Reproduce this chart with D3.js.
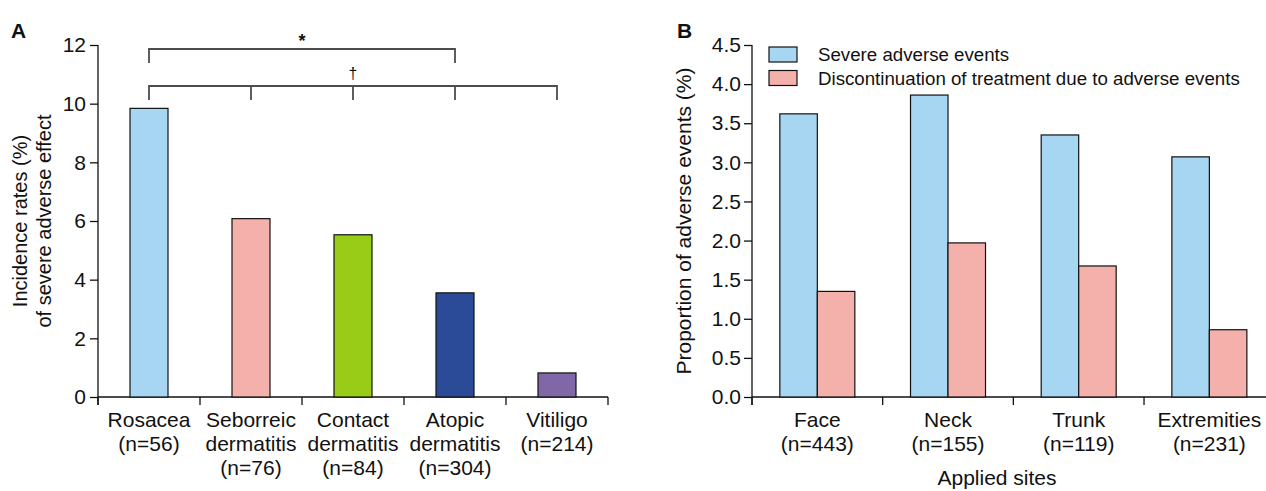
<!DOCTYPE html>
<meta charset="utf-8">
<style>
body { margin: 0; background: #fff; }
text { font-family: "Liberation Sans", Arial, sans-serif; fill: #111; }
.axis path, .axis line { stroke: #111; stroke-width: 1.3; }
.axis text { font-size: 21px; fill: #111; }
.bar { stroke: #111; stroke-width: 1.2; }
</style>
<svg width="1266" height="491"></svg>
<script src="https://d3js.org/d3.v7.min.js"></script>
<script>

// panel A data
var diseases = ["Rosacea", "Seborreic dermatitis", "Contact dermatitis", "Atopic dermatitis", "Vitiligo"];
var diseaseLabels = [["Rosacea", "(n=56)"], ["Seborreic", "dermatitis", "(n=76)"],
  ["Contact", "dermatitis", "(n=84)"], ["Atopic", "dermatitis", "(n=304)"], ["Vitiligo", "(n=214)"]];
var incidence = [9.84, 6.08, 5.53, 3.55, 0.82];
var diseaseColors = ["#a7d6f3", "#f4b1ac", "#99cc16", "#2b4a97", "#8068a8"];
var ticksA = [0, 2, 4, 6, 8, 10, 12];

// panel B data
var sites = ["Face", "Neck", "Trunk", "Extremities"];
var siteN = ["(n=443)", "(n=155)", "(n=119)", "(n=231)"];
var severe = [3.62, 3.86, 3.35, 3.07];
var discontinued = [1.35, 1.97, 1.675, 0.86];
var seriesNames = ["Severe adverse events", "Discontinuation of treatment due to adverse events"];
var seriesColors = ["#a7d6f3", "#f4b1ac"];
var ticksB = [0, 0.5, 1, 1.5, 2, 2.5, 3, 3.5, 4, 4.5];

var svg = d3.select("svg");

// ---------- panel A ----------
var gA = svg.append("g");
var xA = d3.scaleBand().domain(diseases).range([98, 608]);
var yA = d3.scaleLinear().domain([0, 12]).range([397, 45]);

gA.append("g").attr("class", "axis")
    .attr("transform", "translate(98,0)")
    .call(d3.axisLeft(yA).tickValues(ticksA).tickSize(8).tickPadding(4).tickSizeOuter(0))
    .call(function(g) { g.select(".domain").attr("d", "M0,45V405"); });

// x axis with ticks at category boundaries
var boundsA = diseases.map(function(d) { return xA(d); }).concat([xA.range()[1]]);
gA.append("line").attr("x1", 98).attr("x2", 608).attr("y1", 397).attr("y2", 397)
    .attr("stroke", "#111").attr("stroke-width", 1.3);
gA.selectAll(".xtick").data(boundsA).enter().append("line")
    .attr("x1", function(d) { return d; }).attr("x2", function(d) { return d; })
    .attr("y1", 397).attr("y2", 405).attr("stroke", "#111").attr("stroke-width", 1.3);

var bwA = 38;
gA.selectAll(".bar").data(diseases).enter().append("rect")
    .attr("class", "bar")
    .attr("x", function(d) { return xA(d) + xA.bandwidth() / 2 - bwA / 2; })
    .attr("width", bwA)
    .attr("y", function(d, i) { return yA(incidence[i]); })
    .attr("height", function(d, i) { return yA(0) - yA(incidence[i]); })
    .attr("fill", function(d, i) { return diseaseColors[i]; });

gA.selectAll(".catlab").data(diseases).enter().append("text")
    .attr("text-anchor", "middle")
    .attr("font-size", 21)
    .attr("transform", function(d) { return "translate(" + (xA(d) + xA.bandwidth() / 2) + ",427)"; })
    .each(function(d, i) {
      var t = d3.select(this);
      diseaseLabels[i].forEach(function(line, j) {
        t.append("tspan").attr("x", 0).attr("y", j * 24).text(line);
      });
    });

gA.append("text")
    .attr("transform", "translate(27,221) rotate(-90)")
    .attr("text-anchor", "middle").attr("font-size", 20)
    .text("Incidence rates (%)");
gA.append("text")
    .attr("transform", "translate(51,221) rotate(-90)")
    .attr("text-anchor", "middle").attr("font-size", 20)
    .text("of severe adverse effect");

gA.append("text").attr("x", 11).attr("y", 38)
    .attr("font-size", 21).attr("font-weight", "bold").text("A");

// significance brackets
function cx(d) { return xA(d) + xA.bandwidth() / 2; }
var bracket = gA.append("g").attr("stroke", "#4d4d4d").attr("stroke-width", 1.8).attr("fill", "none");
bracket.append("path")
    .attr("d", "M" + cx(diseases[0]) + ",63V49H" + cx(diseases[3]) + "V63");
bracket.append("path")
    .attr("d", "M" + cx(diseases[0]) + ",100V86H" + cx(diseases[4]) + "V100");
diseases.slice(1, 4).forEach(function(d) {
  bracket.append("line").attr("x1", cx(d)).attr("x2", cx(d)).attr("y1", 86).attr("y2", 100);
});
gA.append("text").attr("x", (cx(diseases[0]) + cx(diseases[3])) / 2).attr("y", 47)
    .attr("text-anchor", "middle").attr("font-size", 18).attr("font-weight", "bold").text("*");
gA.append("text").attr("x", cx(diseases[2])).attr("y", 79)
    .attr("text-anchor", "middle").attr("font-size", 16).style("fill", "#111").text("\u2020");

// ---------- panel B ----------
var gB = svg.append("g");
var xB = d3.scaleBand().domain(sites).range([752, 1274.7]);
var yB = d3.scaleLinear().domain([0, 4.5]).range([397, 45]);

gB.append("g").attr("class", "axis")
    .attr("transform", "translate(752,0)")
    .call(d3.axisLeft(yB).tickValues(ticksB).tickFormat(d3.format(".1f")).tickSize(8).tickPadding(3).tickSizeOuter(0))
    .call(function(g) { g.select(".domain").attr("d", "M0,45V405"); });

var boundsB = sites.map(function(d) { return xB(d); }).concat([xB.range()[1]]);
gB.append("line").attr("x1", 752).attr("x2", xB.range()[1]).attr("y1", 397).attr("y2", 397)
    .attr("stroke", "#111").attr("stroke-width", 1.3);
gB.selectAll(".xtick").data(boundsB).enter().append("line")
    .attr("x1", function(d) { return d; }).attr("x2", function(d) { return d; })
    .attr("y1", 397).attr("y2", 405).attr("stroke", "#111").attr("stroke-width", 1.3);

var bwB = 37.5;
var seriesVals = [severe, discontinued];
seriesVals.forEach(function(vals, s) {
  gB.selectAll(".bar" + s).data(sites).enter().append("rect")
      .attr("class", "bar")
      .attr("x", function(d) { return xB(d) + xB.bandwidth() / 2 - bwB + s * bwB; })
      .attr("width", bwB)
      .attr("y", function(d, i) { return yB(vals[i]); })
      .attr("height", function(d, i) { return yB(0) - yB(vals[i]); })
      .attr("fill", seriesColors[s]);
});

gB.selectAll(".catlab").data(sites).enter().append("text")
    .attr("text-anchor", "middle")
    .attr("font-size", 21)
    .attr("transform", function(d) { return "translate(" + (xB(d) + xB.bandwidth() / 2) + ",427)"; })
    .each(function(d, i) {
      var t = d3.select(this);
      t.append("tspan").attr("x", 0).attr("y", 0).text(d);
      t.append("tspan").attr("x", 0).attr("y", 24).text(siteN[i]);
    });

gB.append("text").attr("x", 997).attr("y", 485)
    .attr("text-anchor", "middle").attr("font-size", 21).text("Applied sites");

gB.append("text")
    .attr("transform", "translate(691,221) rotate(-90)")
    .attr("text-anchor", "middle").attr("font-size", 21)
    .text("Proportion of adverse events (%)");

gB.append("text").attr("x", 677).attr("y", 38)
    .attr("font-size", 21).attr("font-weight", "bold").text("B");

// legend
var leg = gB.selectAll(".leg").data(seriesNames).enter().append("g")
    .attr("transform", function(d, i) { return "translate(769," + (47 + i * 23.5) + ")"; });
leg.append("rect").attr("width", 28).attr("height", 15)
    .attr("fill", function(d, i) { return seriesColors[i]; })
    .attr("stroke", "#111").attr("stroke-width", 1.2);
leg.append("text").attr("x", 49).attr("y", 14).attr("font-size", 18.7).text(function(d) { return d; });

</script>
